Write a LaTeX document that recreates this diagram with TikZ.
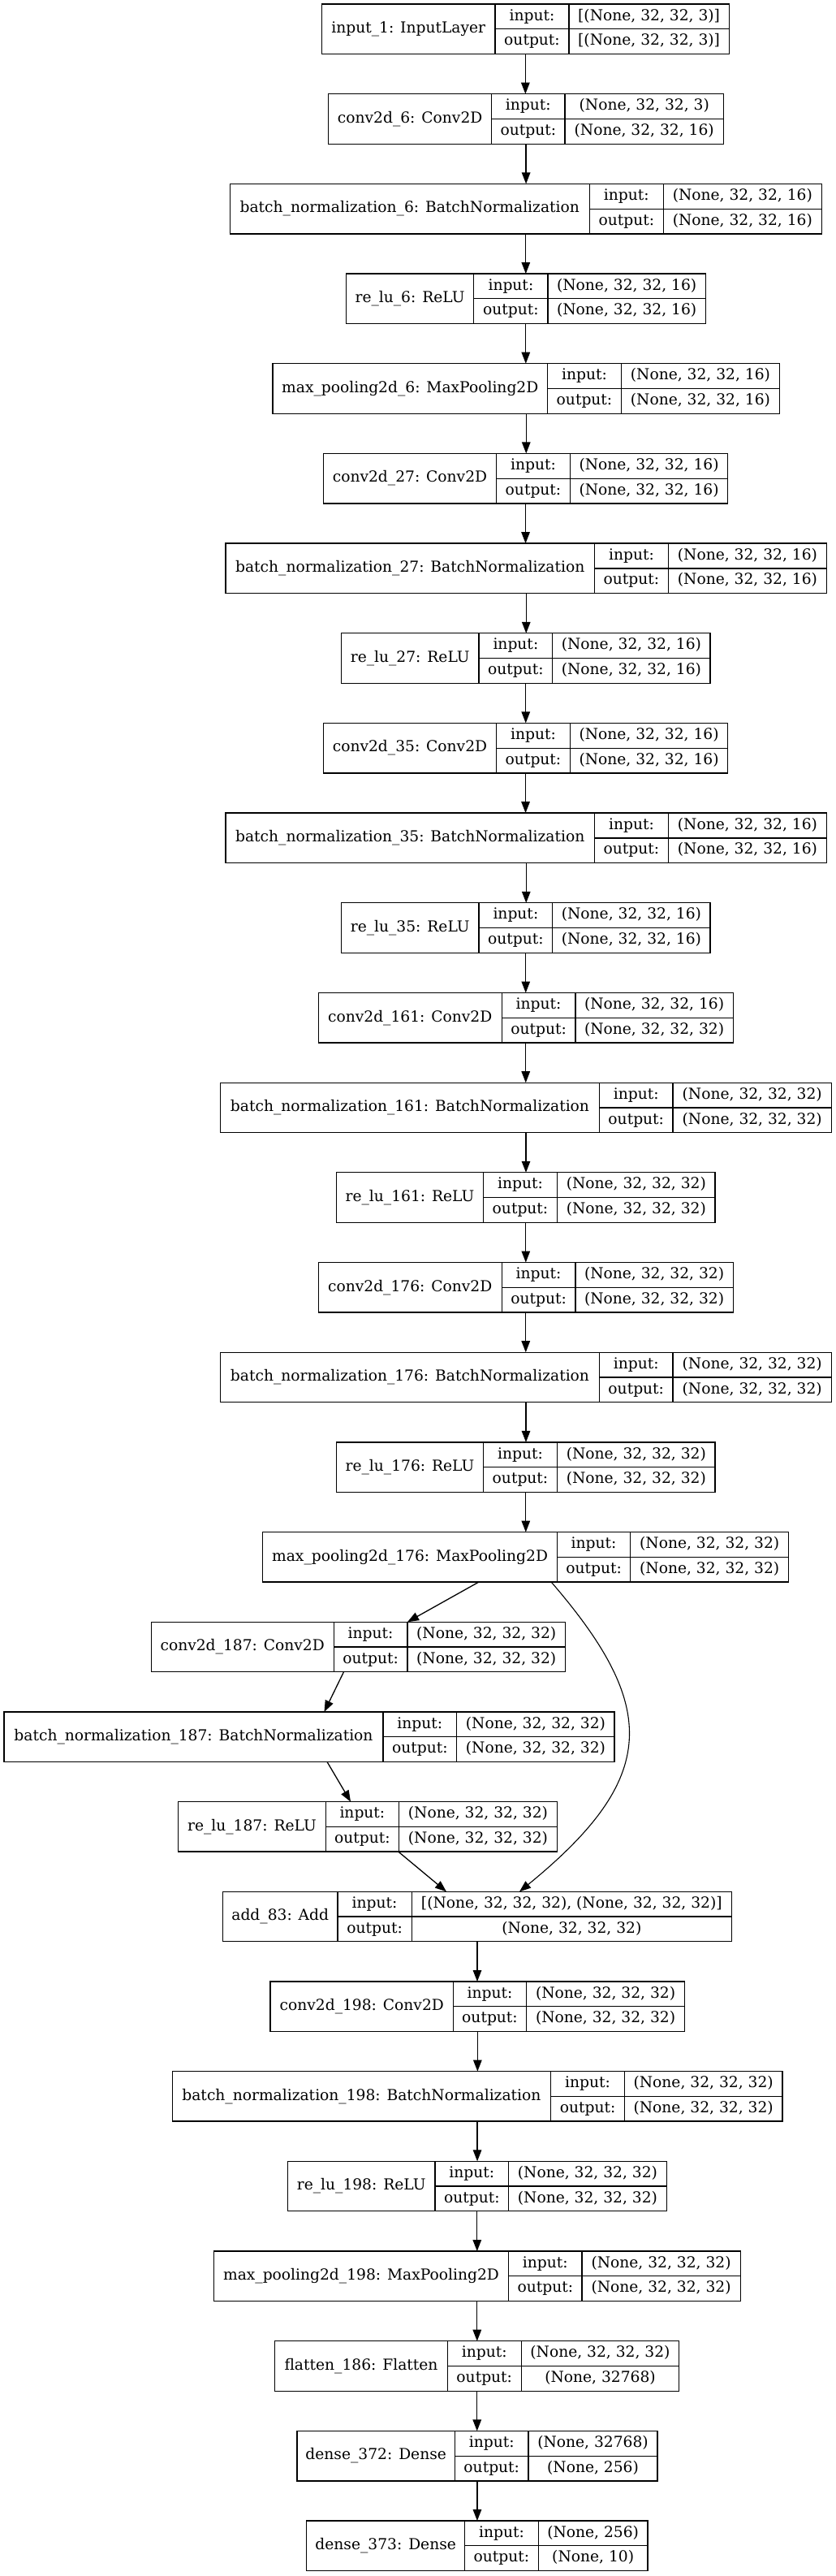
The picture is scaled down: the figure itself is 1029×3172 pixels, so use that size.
\documentclass[tikz,border=0pt]{standalone}
\usepackage{fontspec}
\setmainfont{DejaVu Serif}
\usetikzlibrary{arrows.meta}
\newcommand\kh{61.5}
\tikzset{
  kbox/.style={draw=black, line width=1.3pt, inner sep=0pt, outer sep=0pt, minimum height=\kh, fill=white},
  kline/.style={draw=black, line width=1.3pt},
  ktxt/.style={inner sep=0pt, font=\fontsize{18.67}{22}\selectfont, text height=13.5pt, text depth=4pt},
  karr/.style={draw=black, line width=1.3pt, -{Triangle[length=14pt,width=10.5pt]}},
  kcurve/.style={draw=black, line width=1.1pt, -{Triangle[length=14pt,width=10.5pt]}}
}
% #1 id, #2 top, #3 L, #4 c1, #5 c2, #6 R, #7 label, #8 input shape, #9 output shape
\newcommand\klayer[9]{%
  \node[kbox, minimum width={#6-#3}, anchor=north west] (#1) at (#3,#2) {};
  \draw[kline] (#4,#2) -- (#4,{#2+\kh});
  \draw[kline] (#5,#2) -- (#5,{#2+\kh});
  \draw[kline] (#4,{#2+\kh/2}) -- (#6,{#2+\kh/2});
  \node[ktxt] (#1l) at ({(#3+#4)/2},{#2+\kh/2}) {#7};
  \node[ktxt] (#1i) at ({(#4+#5)/2},{#2+\kh/4}) {input:};
  \node[ktxt] (#1o) at ({(#4+#5)/2},{#2+3*\kh/4}) {output:};
  \node[ktxt] (#1a) at ({(#5+#6)/2},{#2+\kh/4}) {#8};
  \node[ktxt] (#1b) at ({(#5+#6)/2},{#2+3*\kh/4}) {#9};
}
\begin{document}
\begin{tikzpicture}[x=1pt,y=-1pt]
\fill[white] (0,0) rectangle (1029,3172);
\useasboundingbox (0,0) rectangle (1029,3172);
\klayer{b1}{5}{396.5}{610}{701}{898.2}{input\_1: InputLayer}{[(None, 32, 32, 3)]}{[(None, 32, 32, 3)]}
\klayer{b2}{115.7}{404.8}{605.5}{696.1}{891.4}{conv2d\_6: Conv2D}{(None, 32, 32, 3)}{(None, 32, 32, 16)}
\klayer{b3}{226.4}{283.3}{726.3}{817.4}{1012.3}{batch\_normalization\_6: BatchNormalization}{(None, 32, 32, 16)}{(None, 32, 32, 16)}
\klayer{b4}{337.0}{426.3}{583.8}{675}{869.3}{re\_lu\_6: ReLU}{(None, 32, 32, 16)}{(None, 32, 32, 16)}
\klayer{b5}{447.7}{336.1}{674.4}{765.6}{960.4}{max\_pooling2d\_6: MaxPooling2D}{(None, 32, 32, 16)}{(None, 32, 32, 16)}
\klayer{b6}{558.4}{398.6}{611.4}{702.6}{896.5}{conv2d\_27: Conv2D}{(None, 32, 32, 16)}{(None, 32, 32, 16)}
\klayer{b7}{669.1}{277.9}{732.6}{823.3}{1018.6}{batch\_normalization\_27: BatchNormalization}{(None, 32, 32, 16)}{(None, 32, 32, 16)}
\klayer{b8}{779.8}{420.4}{590.1}{680.7}{875.1}{re\_lu\_27: ReLU}{(None, 32, 32, 16)}{(None, 32, 32, 16)}
\klayer{b9}{890.4}{398.6}{611.4}{702.6}{896.5}{conv2d\_35: Conv2D}{(None, 32, 32, 16)}{(None, 32, 32, 16)}
\klayer{b10}{1001.1}{277.9}{732.6}{823.3}{1018.6}{batch\_normalization\_35: BatchNormalization}{(None, 32, 32, 16)}{(None, 32, 32, 16)}
\klayer{b11}{1111.8}{420.4}{590.1}{680.7}{875.1}{re\_lu\_35: ReLU}{(None, 32, 32, 16)}{(None, 32, 32, 16)}
\klayer{b12}{1222.5}{392.3}{618.2}{708.9}{903.2}{conv2d\_161: Conv2D}{(None, 32, 32, 16)}{(None, 32, 32, 32)}
\klayer{b13}{1333.2}{271.6}{738.4}{829.1}{1024.4}{batch\_normalization\_161: BatchNormalization}{(None, 32, 32, 32)}{(None, 32, 32, 32)}
\klayer{b14}{1443.8}{414.6}{595.4}{686.6}{881}{re\_lu\_161: ReLU}{(None, 32, 32, 32)}{(None, 32, 32, 32)}
\klayer{b15}{1554.5}{392.3}{618.2}{708.9}{903.2}{conv2d\_176: Conv2D}{(None, 32, 32, 32)}{(None, 32, 32, 32)}
\klayer{b16}{1665.2}{271.6}{738.4}{829.1}{1024.4}{batch\_normalization\_176: BatchNormalization}{(None, 32, 32, 32)}{(None, 32, 32, 32)}
\klayer{b17}{1775.9}{414.6}{595.4}{686.6}{881}{re\_lu\_176: ReLU}{(None, 32, 32, 32)}{(None, 32, 32, 32)}
\klayer{b18}{1886.6}{323.8}{686.4}{776.7}{971.7}{max\_pooling2d\_176: MaxPooling2D}{(None, 32, 32, 32)}{(None, 32, 32, 32)}
\klayer{b19}{1997.2}{186.2}{411.2}{502}{696.4}{conv2d\_187: Conv2D}{(None, 32, 32, 32)}{(None, 32, 32, 32)}
\klayer{b20}{2107.9}{5.1}{471.9}{562.8}{757.1}{batch\_normalization\_187: BatchNormalization}{(None, 32, 32, 32)}{(None, 32, 32, 32)}
\klayer{b21}{2218.6}{219.4}{401.5}{491.3}{686.7}{re\_lu\_187: ReLU}{(None, 32, 32, 32)}{(None, 32, 32, 32)}
\klayer{b22}{2329.3}{274.6}{415.9}{507.2}{901.4}{add\_83: Add}{[(None, 32, 32, 32), (None, 32, 32, 32)]}{(None, 32, 32, 32)}
\klayer{b23}{2440.0}{333.1}{558.5}{648.5}{843.6}{conv2d\_198: Conv2D}{(None, 32, 32, 32)}{(None, 32, 32, 32)}
\klayer{b24}{2550.6}{212.2}{678.7}{769.4}{963.9}{batch\_normalization\_198: BatchNormalization}{(None, 32, 32, 32)}{(None, 32, 32, 32)}
\klayer{b25}{2661.3}{354.3}{536.1}{626.6}{821.3}{re\_lu\_198: ReLU}{(None, 32, 32, 32)}{(None, 32, 32, 32)}
\klayer{b26}{2772.0}{263.4}{626.6}{717}{912.2}{max\_pooling2d\_198: MaxPooling2D}{(None, 32, 32, 32)}{(None, 32, 32, 32)}
\klayer{b27}{2882.7}{338.8}{551.2}{642.3}{836.7}{flatten\_186: Flatten}{(None, 32, 32, 32)}{(None, 32768)}
\klayer{b28}{2993.4}{366}{560.4}{651.1}{809.9}{dense\_372: Dense}{(None, 32768)}{(None, 256)}
\klayer{b29}{3104.0}{377.8}{572.6}{663.3}{798}{dense\_373: Dense}{(None, 256)}{(None, 10)}
% straight connectors
\foreach \a/\b in {1/2,2/3,3/4,4/5,5/6,6/7,7/8,8/9,9/10,10/11,11/12,12/13,13/14,14/15,15/16,16/17,17/18,22/23,23/24,24/25,25/26,26/27,27/28,28/29}
  \draw[karr] (b\a.south) -- (b\a.south |- b\b.north);
% branch
\draw[karr] ([xshift=-58pt]b18.south) -- ([xshift=60.7pt]b19.north);
\draw[karr] ([xshift=-17.8pt]b19.south) -- ([xshift=18.4pt]b20.north);
\draw[karr] ([xshift=21.9pt]b20.south) -- ([xshift=-21pt]b21.north);
\draw[karr] ([xshift=37.8pt]b21.south) -- ([xshift=-38pt]b22.north);
\draw[kcurve] ([xshift=31.5pt]b18.south) .. controls (812,2102) and (812,2189) .. ([xshift=52pt]b22.north);
\end{tikzpicture}
\end{document}
